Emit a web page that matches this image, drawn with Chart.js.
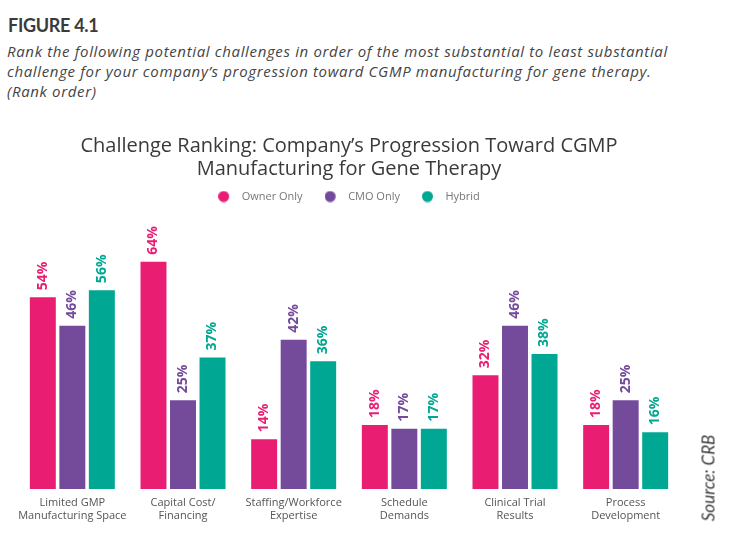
<!DOCTYPE html>
<html>
<head>
<meta charset="utf-8">
<script src="https://cdn.jsdelivr.net/npm/chart.js@4.4.1/dist/chart.umd.min.js"></script>
<style>
  html, body { margin: 0; padding: 0; background: #fff; }
  body { width: 742px; height: 550px; position: relative; overflow: hidden; font-family: Lato, sans-serif; }
  .fig-no { position: absolute; left: 8px; top: 14px; font: 700 18px Lato, sans-serif; color: #3a3a3a; letter-spacing: -0.3px; }
  .fig-q { position: absolute; left: 7px; top: 41px; font: italic 400 15px/20px 'Open Sans', sans-serif; color: #444; letter-spacing: 0.65px; }
  .chart-box { position: absolute; left: 0; top: 120px; width: 742px; height: 410px; }
  .source { position: absolute; left: 708px; top: 478px; transform: translate(-50%, -50%) rotate(-90deg);
            font: italic 400 17px Lato, sans-serif; color: #3a3a3a; white-space: nowrap; }
</style>
</head>
<body>
<div class="fig-no">FIGURE 4.1</div>
<div class="fig-q">Rank the following potential challenges in order of the most substantial to least substantial<br>challenge for your company’s progression toward CGMP manufacturing for gene therapy.<br>(Rank order)</div>
<div class="chart-box"><canvas id="rankChart"></canvas></div>
<div class="source">Source: CRB</div>
<script>
'use strict';

// 데이터
const categories = [
  ['Limited GMP', 'Manufacturing Space'],
  ['Capital Cost/', 'Financing'],
  ['Staffing/Workforce', 'Expertise'],
  ['Schedule', 'Demands'],
  ['Clinical Trial', 'Results'],
  ['Process', 'Development'],
];
const seriesNames = ['Owner Only', 'CMO Only', 'Hybrid'];
const ownerOnly = [54, 64, 14, 18, 32, 18];
const cmoOnly = [46, 25, 42, 17, 46, 25];
const hybrid = [56, 37, 36, 17, 38, 16];
const colors = ['#E91E73', '#744A9B', '#00A793'];

// 범례용 원형 마커 (텍스트와 간격 확보)
function legendDot(color) {
  const c = document.createElement('canvas');
  c.width = 18;
  c.height = 12;
  const g = c.getContext('2d');
  g.fillStyle = color;
  g.beginPath();
  g.arc(5.5, 6, 5.5, 0, Math.PI * 2);
  g.fill();
  return c;
}

// 막대 위 세로 퍼센트 라벨
const valueLabelPlugin = {
  id: 'valueLabels',
  afterDatasetsDraw(chart) {
    const { ctx } = chart;
    chart.data.datasets.forEach((ds, di) => {
      const meta = chart.getDatasetMeta(di);
      meta.data.forEach((bar, i) => {
        ctx.save();
        ctx.translate(bar.x, bar.y - 7);
        ctx.rotate(-Math.PI / 2);
        ctx.font = "bold 14px 'Open Sans', sans-serif";
        ctx.fillStyle = ds.backgroundColor;
        ctx.textAlign = 'left';
        ctx.textBaseline = 'middle';
        ctx.fillText(ds.data[i] + '%', 0, 0);
        ctx.restore();
      });
    });
  }
};

const ctx = document.getElementById('rankChart').getContext('2d');
new Chart(ctx, {
  type: 'bar',
  plugins: [valueLabelPlugin],
  data: {
    labels: categories,
    datasets: [ownerOnly, cmoOnly, hybrid].map((d, i) => ({
      label: seriesNames[i],
      data: d,
      backgroundColor: colors[i],
      borderWidth: 0,
      categoryPercentage: 0.80,
      barPercentage: 0.88,
    })),
  },
  options: {
    responsive: true,
    maintainAspectRatio: false,
    animation: false,
    layout: { padding: { left: 17, right: 61, top: 0, bottom: 0 } },
    plugins: {
      title: {
        display: true,
        text: ['Challenge Ranking: Company’s Progression Toward CGMP', 'Manufacturing for Gene Therapy'],
        color: '#3a3a3a',
        font: { family: "'Open Sans', sans-serif", size: 20, weight: 'normal', lineHeight: '23px' },
        padding: { top: 15, bottom: -12 },
      },
      legend: {
        display: true,
        labels: {
          usePointStyle: true,
          pointStyleWidth: 18,
          boxHeight: 11,
          padding: 22,
          color: '#777',
          font: { family: "'Open Sans', sans-serif", size: 11 },
          generateLabels(chart) {
            const items = Chart.defaults.plugins.legend.labels.generateLabels(chart);
            items.forEach((it, i) => { it.pointStyle = legendDot(colors[i]); });
            return items;
          },
        },
        onClick: null,
      },
      tooltip: { enabled: false },
    },
    scales: {
      x: {
        grid: { display: false, drawTicks: false },
        border: { display: false },
        ticks: {
          autoSkip: false,
          padding: 8,
          color: '#555',
          font: { family: "'Open Sans', sans-serif", size: 11, lineHeight: '12.5px' },
          maxRotation: 0,
        },
      },
      y: {
        display: false,
        min: 0,
        max: 78,
      },
    },
  },
});
</script>
</body>
</html>
